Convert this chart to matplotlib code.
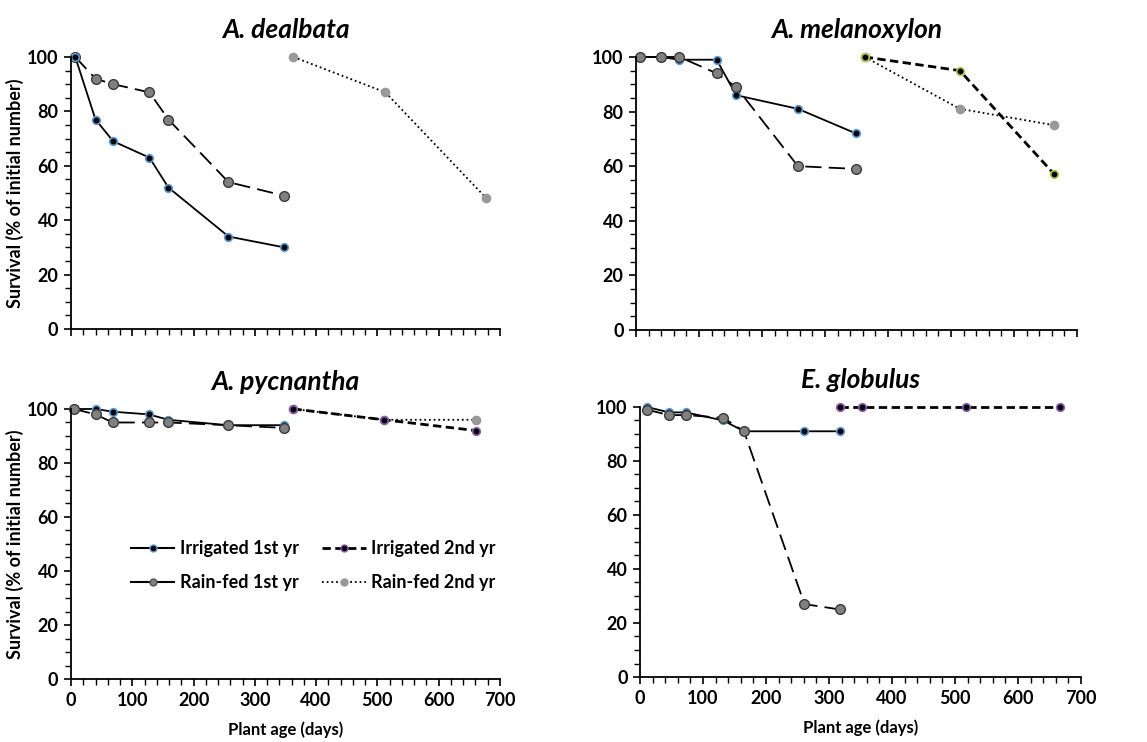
import matplotlib
matplotlib.use('Agg')
import matplotlib.pyplot as plt
from matplotlib.lines import Line2D
from matplotlib.ticker import MultipleLocator

plt.rcParams['font.family'] = ['Lato', 'DejaVu Sans']

# data: days and survival (%)
dealbata_irr1_x = [7, 40, 69, 128, 159, 257, 348]
dealbata_irr1_y = [100, 77, 69, 63, 52, 34, 30]
dealbata_rf1_x = [7, 40, 69, 128, 159, 257, 348]
dealbata_rf1_y = [100, 92, 90, 87, 77, 54, 49]
dealbata_rf2_x = [363, 513, 678]
dealbata_rf2_y = [100, 87, 48]

melan_irr1_x = [7, 40, 69, 128, 159, 257, 349]
melan_irr1_y = [100, 100, 99, 99, 86, 81, 72]
melan_rf1_x = [7, 40, 69, 128, 159, 257, 349]
melan_rf1_y = [100, 100, 100, 94, 89, 60, 59]
melan_irr2_x = [363, 514, 664]
melan_irr2_y = [100, 95, 57]
melan_rf2_x = [363, 514, 664]
melan_rf2_y = [100, 81, 75]

pycn_irr1_x = [5, 40, 68, 127, 159, 256, 347]
pycn_irr1_y = [100, 100, 99, 98, 96, 94, 94]
pycn_rf1_x = [5, 40, 68, 127, 159, 256, 347]
pycn_rf1_y = [100, 98, 95, 95, 95, 94, 93]
pycn_irr2_x = [363, 511, 661]
pycn_irr2_y = [100, 96, 92]
pycn_rf2_x = [363, 511, 661]
pycn_rf2_y = [100, 96, 96]

glob_irr1_x = [11, 46, 73, 132, 165, 261, 317]
glob_irr1_y = [100, 98, 98, 95, 91, 91, 91]
glob_rf1_x = [11, 46, 73, 132, 165, 261, 317]
glob_rf1_y = [99, 97, 97, 96, 91, 27, 25]
glob_irr2_x = [317, 352, 517, 666]
glob_irr2_y = [100, 100, 100, 100]

titles = ['A. dealbata', 'A. melanoxylon', 'A. pycnantha', 'E. globulus']

# styles
irr1_style = dict(color='black', lw=1.3, ls='-', marker='o', ms=5.5,
                  mfc='black', mec='#5b9bd5', mew=1.2)
rf1_style = dict(color='black', lw=1.3, ls=(0, (9, 4)), marker='o', ms=7,
                 mfc='#808080', mec='#3a3a3a', mew=1.0)
rf2_style = dict(color='black', lw=1.3, ls=(0, (1, 1.6)), marker='o', ms=7,
                 mfc='#999999', mec='#999999', mew=0)


def irr2_style(edge):
    return dict(color='black', lw=2.0, ls=(0, (3, 1.6)), marker='o', ms=5.5,
                mfc='black', mec=edge, mew=1.2)


fig = plt.figure(figsize=(11.47, 7.42), dpi=100)
positions = [
    [0.0619, 0.5566, 0.374, 0.3666],
    [0.5545, 0.5553, 0.3845, 0.3679],
    [0.0619, 0.0849, 0.374, 0.3639],
    [0.5580, 0.0876, 0.3845, 0.3639],
]
axes = [fig.add_axes(p) for p in positions]

ax = axes[0]
ax.plot(dealbata_rf2_x, dealbata_rf2_y, clip_on=False, **rf2_style)
ax.plot(dealbata_rf1_x, dealbata_rf1_y, clip_on=False, **rf1_style)
ax.plot(dealbata_irr1_x, dealbata_irr1_y, clip_on=False, **irr1_style)

ax = axes[1]
ax.plot(melan_rf2_x, melan_rf2_y, clip_on=False, **rf2_style)
ax.plot(melan_irr2_x, melan_irr2_y, clip_on=False, **irr2_style('#a6d14a'))
ax.plot(melan_irr1_x, melan_irr1_y, clip_on=False, **irr1_style)
ax.plot(melan_rf1_x, melan_rf1_y, clip_on=False, **rf1_style)

ax = axes[2]
ax.plot(pycn_rf2_x, pycn_rf2_y, clip_on=False, **rf2_style)
ax.plot(pycn_irr2_x, pycn_irr2_y, clip_on=False, **irr2_style('#8e5fb5'))
ax.plot(pycn_irr1_x, pycn_irr1_y, clip_on=False, **irr1_style)
ax.plot(pycn_rf1_x, pycn_rf1_y, clip_on=False, **rf1_style)

ax = axes[3]
ax.plot(glob_irr1_x, glob_irr1_y, clip_on=False, **irr1_style)
ax.plot(glob_rf1_x, glob_rf1_y, clip_on=False, **rf1_style)
ax.plot(glob_irr2_x, glob_irr2_y, clip_on=False, **irr2_style('#8e5fb5'))

for i, ax in enumerate(axes):
    ax.set_xlim(0, 700)
    ax.set_ylim(0, 100)
    ax.spines['top'].set_visible(False)
    ax.spines['right'].set_visible(False)
    for s in ['left', 'bottom']:
        ax.spines[s].set_linewidth(1.3)
    ax.xaxis.set_major_locator(MultipleLocator(100))
    ax.xaxis.set_minor_locator(MultipleLocator(20))
    ax.yaxis.set_major_locator(MultipleLocator(20))
    ax.yaxis.set_minor_locator(MultipleLocator(5))
    ax.tick_params(which='major', direction='out', length=5, width=1.2,
                   labelsize=13, pad=4)
    ax.tick_params(which='minor', direction='out', length=4, width=1.0)
    for lab in ax.get_xticklabels() + ax.get_yticklabels():
        lab.set_fontweight('bold')
    ax.set_title(titles[i], fontsize=19, fontweight='bold', style='italic', pad=14)
    if i < 2:
        ax.tick_params(axis='x', labelbottom=False)
    else:
        ax.set_xlabel('Plant age (days)', fontsize=12, fontweight='bold', labelpad=9)
    if i % 2 == 0:
        ax.set_ylabel('Survival (% of initial number)', fontsize=13,
                      fontweight='bold', labelpad=2)

handles = [
    Line2D([], [], color='black', lw=1.5, ls='-', marker='o', ms=5,
           mfc='black', mec='#5b9bd5'),
    Line2D([], [], color='black', lw=1.5, ls='-', marker='o', ms=5,
           mfc='#808080', mec='#555555'),
    Line2D([], [], color='black', lw=2.0, ls=(0, (3, 1.6)), marker='o', ms=5,
           mfc='black', mec='#8e5fb5'),
    Line2D([], [], color='black', lw=1.3, ls=(0, (1, 1.6)), marker='o', ms=5,
           mfc='#999999', mec='#999999'),
]
labels = ['Irrigated 1st yr', 'Rain-fed 1st yr', 'Irrigated 2nd yr', 'Rain-fed 2nd yr']
axes[2].legend(handles, labels, ncol=2, frameon=False, loc='center',
               bbox_to_anchor=(0.565, 0.42), handlelength=2.4, handletextpad=0.3,
               columnspacing=1.3, labelspacing=0.95,
               prop={'size': 13, 'weight': 'bold'})

fig.savefig('out.png', dpi=100)
